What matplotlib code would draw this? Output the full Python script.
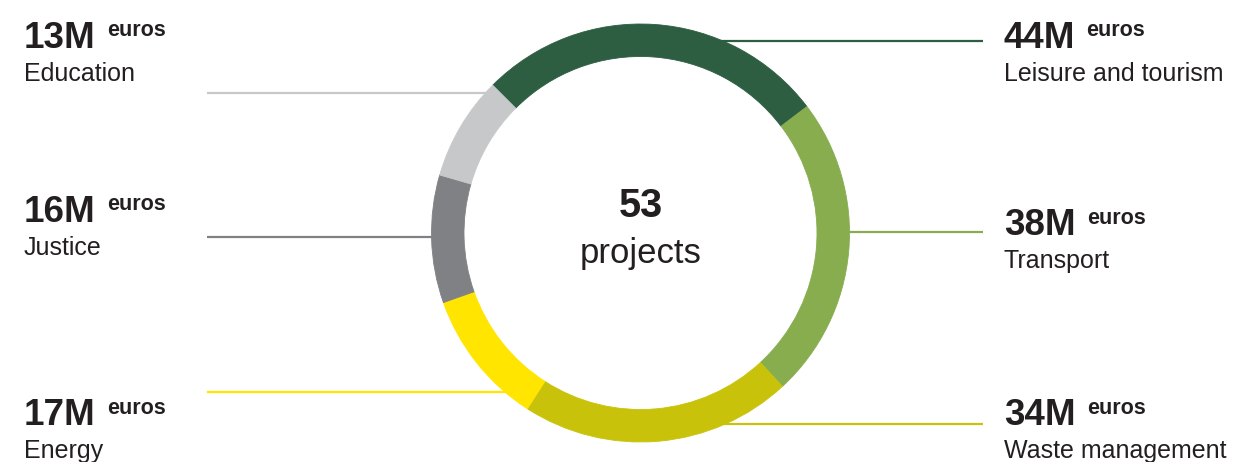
import matplotlib
matplotlib.use('Agg')
import matplotlib.pyplot as plt

# data, clockwise from upper left
sectors = ['Leisure and tourism', 'Transport', 'Waste management',
           'Energy', 'Justice', 'Education']
amounts = [44, 38, 34, 17, 16, 13]
colors = ['#2d5e42', '#87ad4f', '#c8c30a', '#ffe500', '#808184', '#c7c8ca']
total_projects = 53

W, H = 1233, 462
TXT = '#231f20'
FONT = 'Liberation Sans'

fig = plt.figure(figsize=(W / 100, H / 100), dpi=100)
ax = fig.add_axes([0, 0, 1, 1])

cx, cy = 640.5, H - 233
R, ring = 209, 32.5

wedges, _ = ax.pie(amounts, colors=colors, startangle=135, counterclock=False,
                   center=(cx, cy), radius=R, wedgeprops=dict(width=ring))
for w, c in zip(wedges, colors):
    w.set_edgecolor(c)
    w.set_linewidth(0.6)
    w.set_zorder(3)

# leader lines and labels: (side, baseline of amount in px, line y in px, line x range)
layout = {
    'Education':           ('left', 48, 93.3, (207, 500)),
    'Justice':             ('left', 222, 236.7, (207, 445)),
    'Energy':              ('left', 425, 392, (207, 520)),
    'Leisure and tourism': ('right', 48, 40.7, (700, 983)),
    'Transport':           ('right', 235, 232, (830, 983)),
    'Waste management':    ('right', 425, 424.3, (700, 983)),
}

for name, val, col in zip(sectors, amounts, colors):
    side, base, ly, (x0, x1) = layout[name]
    ax.plot([x0, x1], [H - ly, H - ly], color=col, lw=1.6, zorder=1,
            solid_capstyle='butt')
    tx = 24 if side == 'left' else 1004
    t = ax.text(tx, H - base, '%dM' % val, fontsize=26.5, fontweight='bold',
                family=FONT, color=TXT, va='baseline', ha='left')
    ax.annotate('euros', xy=(1, H - base + 11.5), xycoords=(t, 'data'),
                xytext=(11, 0), textcoords='offset pixels',
                fontsize=15.5, fontweight='bold', family=FONT, color=TXT,
                va='baseline', ha='left')
    ax.text(tx, H - base - 33, name, fontsize=18, family=FONT, color=TXT,
            va='baseline', ha='left')

ax.text(cx, H - 216.7, str(total_projects), fontsize=28.5, fontweight='bold',
        family=FONT, color=TXT, ha='center', va='baseline')
ax.text(cx, H - 263, 'projects', fontsize=25, family=FONT, color=TXT,
        ha='center', va='baseline')

ax.set_xlim(0, W)
ax.set_ylim(0, H)
ax.set_aspect('equal')
ax.axis('off')

fig.savefig('out.png', dpi=100, facecolor='white')
plt.close(fig)
